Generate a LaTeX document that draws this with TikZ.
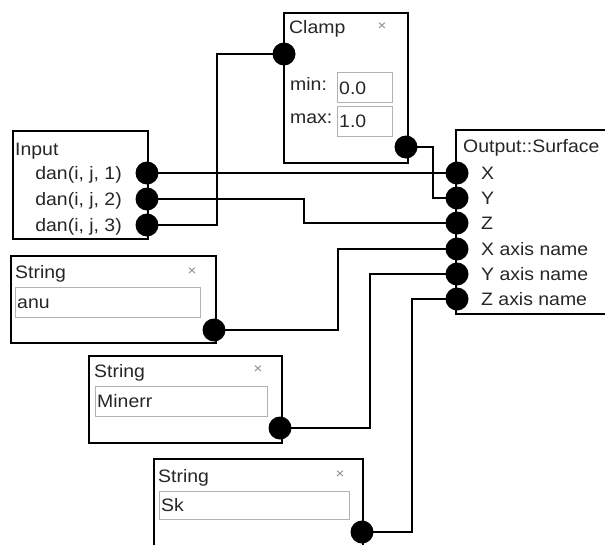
\documentclass[tikz,border=0pt]{standalone}
\usepackage{fontspec}
\setmainfont{Liberation Sans}[FakeStretch=1.08]
\usetikzlibrary{positioning, calc}
\pgfdeclarelayer{wires}
\pgfsetlayers{wires,main}
\tikzset{x=1pt, y=-1pt, % screen-like coordinates, y grows downwards
        every node/.style={ % Text of all the blocks
            font=\fontsize{18}{21}\selectfont,
            text=black!85,
            inner sep=0pt},
        block/.style={ % Outline of a block
            draw,
            line width=2pt,
            fill=white,
            anchor=north west},
        field/.style={ % Text entry inside a block
            draw=black!30,
            line width=1pt,
            anchor=north west},
        tag/.style={anchor=base west},
        closer/.style={text=black!45, font=\fontsize{14}{14}\selectfont},
        port/.style={circle, fill=black, minimum size=23pt},
        wire/.style={draw, line width=1.7pt},
        mainwire/.style={draw, line width=2.6pt}
        }

\begin{document}
\begin{tikzpicture}
    \clip (0,0) rectangle (605,544);

    % Blocks
    \node[block, minimum width=124pt, minimum height=150pt] (clamp) at (283,12) {};
    \node[block, minimum width=135pt, minimum height=108pt] (input) at (12,130) {};
    \node[block, minimum width=165pt, minimum height=184pt] (output) at (455,129) {};
    \node[block, minimum width=205pt, minimum height=87pt] (str1) at (10,255) {};
    \node[block, minimum width=193pt, minimum height=87pt] (str2) at (88,355) {};
    \node[block, minimum width=209pt, minimum height=100pt] (str3) at (153,458) {};

    % Clamp
    \node[tag] (clampname) at (289,33) {Clamp};
    \node[closer] (clampx) at (382,27) {×};
    \node[tag] (minname) at (290,90) {min:};
    \node[tag] (maxname) at (290,123) {max:};
    \node[field, minimum width=55pt, minimum height=30pt] (minbox) at (337,72) {};
    \node[field, minimum width=55pt, minimum height=30pt] (maxbox) at (337,106) {};
    \node[tag] (minval) at (339,94) {0.0};
    \node[tag] (maxval) at (339,127) {1.0};

    % Input
    \node[tag] (inputname) at (15,155) {Input};
    \node[anchor=base east] (d1) at (122,179) {dan(i, j, 1)};
    \node[anchor=base east] (d2) at (122,205) {dan(i, j, 2)};
    \node[anchor=base east] (d3) at (122,231) {dan(i, j, 3)};

    % Output::Surface
    \node[tag] (outputname) at (463,152) {Output::Surface};
    \node[tag] (lx) at (481,179) {X};
    \node[tag] (ly) at (481,204) {Y};
    \node[tag] (lz) at (481,229) {Z};
    \node[tag] (lxname) at (481,255) {X axis name};
    \node[tag] (lyname) at (481,280) {Y axis name};
    \node[tag] (lzname) at (481,305) {Z axis name};

    % Strings
    \node[tag] (s1name) at (15,278) {String};
    \node[closer] (s1x) at (192,272) {×};
    \node[field, minimum width=185pt, minimum height=30pt] (s1box) at (15,287) {};
    \node[tag] (s1val) at (17,308) {anu};

    \node[tag] (s2name) at (94,377) {String};
    \node[closer] (s2x) at (258,370) {×};
    \node[field, minimum width=172pt, minimum height=30pt] (s2box) at (95,386) {};
    \node[tag] (s2val) at (97,407) {Minerr};

    \node[tag] (s3name) at (158,482) {String};
    \node[closer] (s3x) at (340,475) {×};
    \node[field, minimum width=190pt, minimum height=28pt] (s3box) at (159,491) {};
    \node[tag] (s3val) at (161,511) {Sk};

    % Ports
    \node[port] (clampin) at (284,54) {};
    \node[port] (clampout) at (406,147) {};
    \node[port] (dan1) at (147,173) {};
    \node[port] (dan2) at (147,199) {};
    \node[port] (dan3) at (147,225) {};
    \node[port] (x) at (457,173) {};
    \node[port] (y) at (457,198) {};
    \node[port] (z) at (457,223) {};
    \node[port] (xname) at (457,249) {};
    \node[port] (yname) at (457,274) {};
    \node[port] (zname) at (457,299) {};
    \node[port] (s1out) at (214,330) {};
    \node[port] (s2out) at (280,428) {};
    \node[port] (s3out) at (362,532) {};

    % Wires, kept under the ports
    \begin{pgfonlayer}{wires}
    \draw[mainwire] (dan1.center) -- (x.center);
    \draw[wire] (dan2.center) -- ++(157,0) |- (z.center);
    \draw[wire] (dan3.center) -- ++(70,0) |- (clampin.center);
    \draw[wire] (clampout.center) -- ++(27,0) |- (y.center);
    \draw[wire] (s1out.center) -- ++(124,0) |- (xname.center);
    \draw[wire] (s2out.center) -- ++(90,0) |- (yname.center);
    \draw[wire] (s3out.center) -- ++(50,0) |- (zname.center);
    \end{pgfonlayer}
\end{tikzpicture}
\end{document}
